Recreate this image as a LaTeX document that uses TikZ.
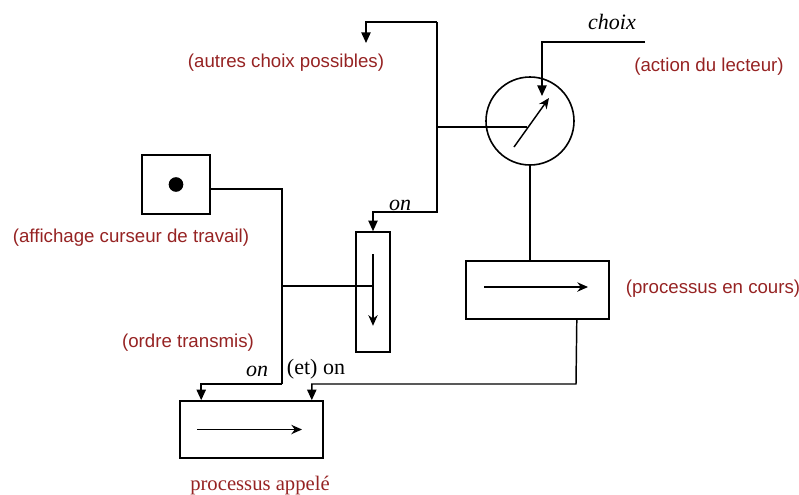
\documentclass[tikz,border=0pt]{standalone}
\usepackage{fontspec}
\setmainfont{Liberation Serif}
\newfontfamily\etiqfont{Liberation Sans}
\usepackage{tikz}
\usetikzlibrary{positioning,calc}
\usetikzlibrary{arrows.meta}
\definecolor{NoteRed}{RGB}{150,35,35}
\tikzset{
	boite/.style={draw=black,line width=1.2pt,fill=white,inner sep=0pt},
	fil/.style={draw=black,line width=1.1pt},
	fleche/.style={fil,-{Triangle[length=8pt,width=7pt]}},
	interne/.style={draw=black,line width=1.1pt,-{Stealth[length=8pt,width=7pt]}},
	note/.style={text=NoteRed,font=\etiqfont\fontsize{14}{16}\selectfont,inner sep=0pt},
	mot/.style={font=\fontsize{16.5}{18}\selectfont\itshape,inner sep=0pt},
}

\begin{document}
\begin{tikzpicture}[x=0.75pt,y=-0.75pt]
	\useasboundingbox (0,0) rectangle (799,494);
	% boites
	\node[boite,minimum width=51pt,minimum height=44.25pt] (curseur) at (176,184.5) {};
	\fill (curseur.center) circle (5.5pt);
	\node[boite,minimum width=25.5pt,minimum height=90pt] (etroit) at (373,292) {};
	\node[boite,circle,minimum size=66pt] (selecteur) at (530,121) {};
	\node[boite,minimum width=107.25pt,minimum height=43.5pt] (encours) at (537.5,290) {};
	\node[boite,minimum width=107.25pt,minimum height=42.75pt] (appele) at (251.5,429.5) {};
	% points de passage
	\coordinate (haut) at (437,22);
	\coordinate (coude) at (437,212);
	\coordinate (autres) at (366,43);
	\coordinate (branche) at (282,286);
	\coordinate (retourA) at (282,384);
	\coordinate (retourB) at (576,384);
	\coordinate (choixfin) at (645,42);
	% liaisons
	\draw[fleche] (haut) -| (autres);
	\draw[fleche] (haut) -- (coude) -| (etroit.north);
	\draw[fil] (437,127) -- ($(selecteur.center)+(-3,6)$);
	\draw[fleche] (choixfin) -| ($(selecteur.center)+(12,-25)$);
	\draw[fil] (selecteur.south) -- (selecteur.south |- encours.north);
	\draw[fil] ($(curseur.east)+(0,4.5)$) -| (retourA);
	\draw[fleche] (retourA) -| ($(appele.north west)+(22,0)$);
	\draw[fil] (branche) -- (branche -| etroit.center);
	\draw[fleche] ($(encours.south east)+(-33,0)$) -- (retourB) -| ($(appele.north east)+(-12,0)$);
	% fleches internes
	\draw[interne] ($(etroit.north)+(0,23)$) -- ($(etroit.south)+(0,-27)$);
	\draw[interne] ($(selecteur.center)+(-16,26)$) -- ($(selecteur.center)+(19,-23)$);
	\draw[interne] ($(encours.center)+(-53.5,-3)$) -- ($(encours.center)+(50.5,-3)$);
	\draw[interne] ($(appele.center)+(-54.5,0)$) -- ($(appele.center)+(50.5,0)$);
	% textes
	\node[mot] (choix) at (612,22) {choix};
	\node[note] (lecteur) at (709,67) {(action du lecteur)};
	\node[note] (possibles) at (286,63) {(autres choix possibles)};
	\node[note] (affichage) at (131,238) {(affichage curseur de travail)};
	\node[note] (ordre) at (188,343) {(ordre transmis)};
	\node[note] (cours) at (713,289) {(processus en cours)};
	\node[mot] (onA) at (400,205) {on};
	\node[mot] (onB) at (257,371) {on};
	\node[inner sep=0pt,font=\fontsize{16.5}{18}\selectfont] (eton) at (316,369) {(et) on};
	\node[inner sep=0pt,text=NoteRed,font=\fontsize{15.5}{17}\selectfont] (appelant) at (260,486) {processus appelé};
\end{tikzpicture}
\end{document}
